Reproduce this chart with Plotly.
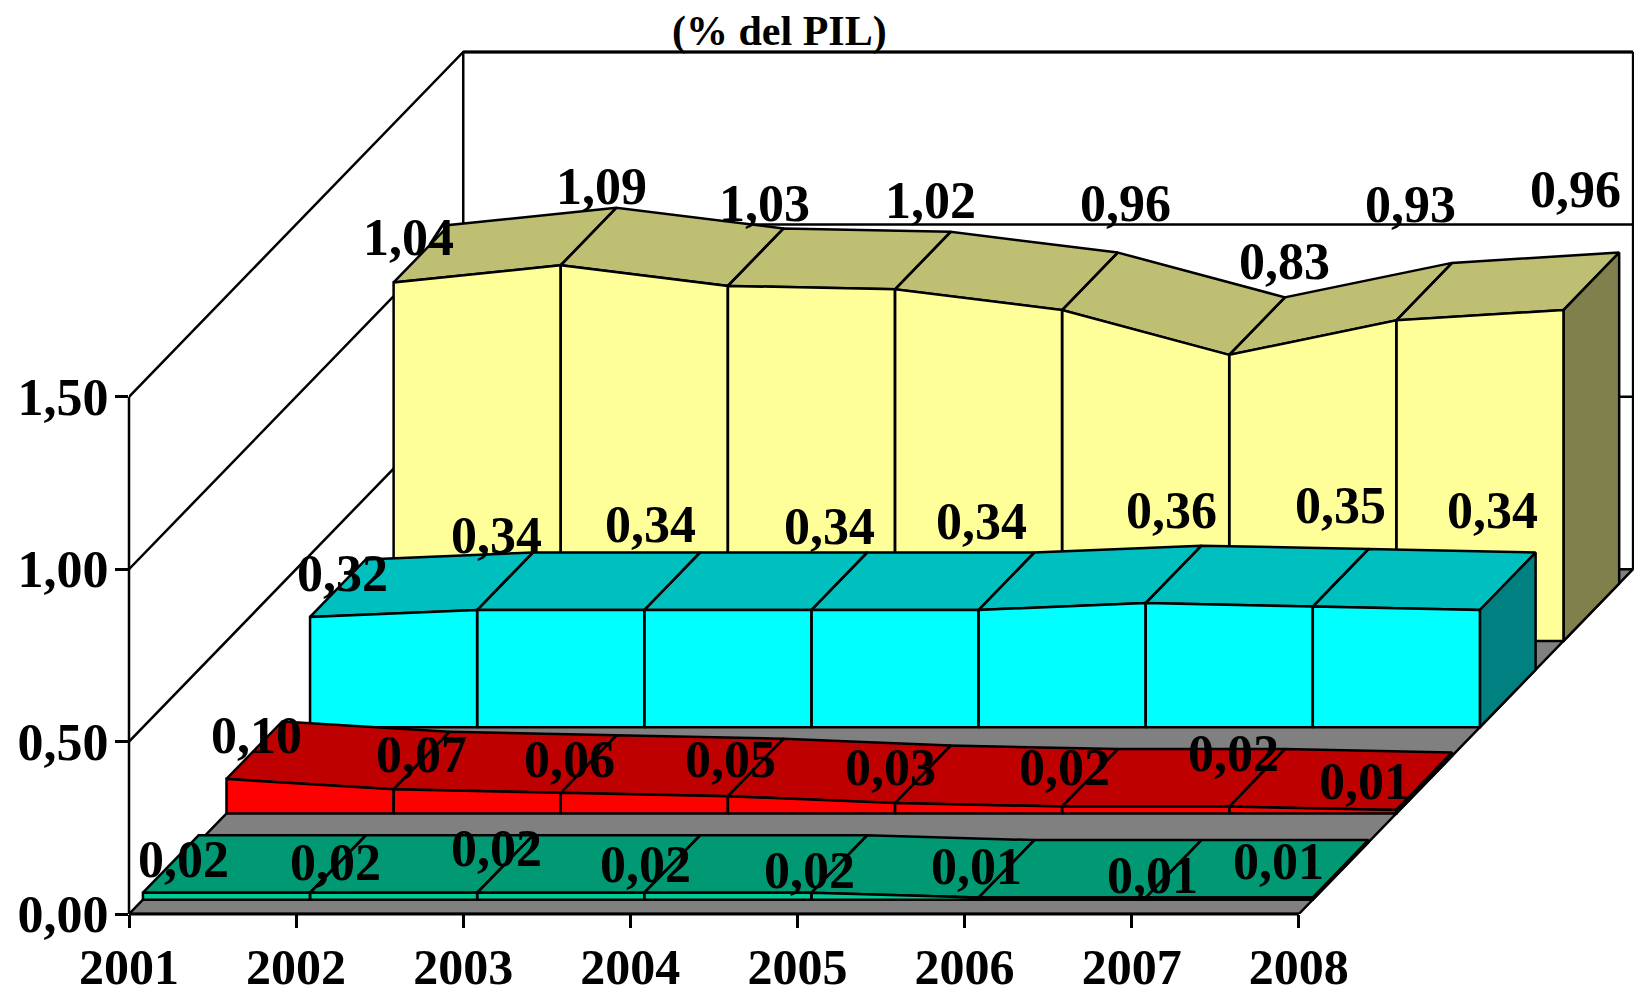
import plotly.graph_objects as go

years = ["2001", "2002", "2003", "2004", "2005", "2006", "2007", "2008"]
y_ticks = [0.0, 0.5, 1.0, 1.5]
y_tick_labels = ["0,00", "0,50", "1,00", "1,50"]

green = [0.02, 0.02, 0.02, 0.02, 0.02, 0.006, 0.006, 0.006]
red = [0.10, 0.07, 0.06, 0.05, 0.03, 0.02, 0.02, 0.01]
cyan = [0.32, 0.34, 0.34, 0.34, 0.34, 0.36, 0.35, 0.34]
yellow = [1.04, 1.09, 1.03, 1.02, 0.96, 0.83, 0.93, 0.96]

# label nudges in screen pixels, relative to the mid-depth top of each point
green_nudge = [(13, -5), (-2, -2), (-9, -16), (-27, 0), (-30, 6), (-30, -2), (-21, 7), (-62, -7)]
red_nudge = [(2, -15), (0, -6), (-19, -5), (-25, -8), (-32, -7), (-25, -10), (-24, -24), (-60, 0)]
cyan_nudge = [(5, -15), (-9, -46), (-22, -57), (-10, -55), (-25, -60), (-2, -64), (0, -72), (-15, -71)]
yellow_nudge = [(-13, -16), (13, -50), (9, -54), (8, -60), (36, -78), (27, -65), (-14, -87), (-16, -92)]

series = [
    (green, green_nudge, "#00CC99", "#009973", "#006650"),
    (red, red_nudge, "#FF0000", "#BF0000", "#800000"),
    (cyan, cyan_nudge, "#00FFFF", "#00BFBF", "#008080"),
    (yellow, yellow_nudge, "#FFFF99", "#BFBF73", "#80804D"),
]

PX_X, PX_Y = 167.1, 344.8          # screen pixels per year and per unit of value
LEFT, BASE = 129.2, 914.0          # screen position of the origin
DEPTH_X, DEPTH_Y = 2.0, 1.0        # oblique shift of the whole depth, in axis units
N = len(years)
S = len(series)
FONT = "Liberation Serif"
LW = 2.5


def proj(i, d, v):
    return i + d * DEPTH_X, v + d * DEPTH_Y


def poly(points):
    xs, ys = zip(*[proj(*p) for p in points + points[:1]])
    return list(xs), list(ys)


def shapes_trace(polys, fill, width=LW):
    xs, ys = [], []
    for p in polys:
        a, b = poly(p)
        xs += a + [None]
        ys += b + [None]
    return go.Scatter(x=xs, y=ys, mode="lines", fill="toself" if fill else None,
                      fillcolor=fill, line=dict(color="black", width=width),
                      hoverinfo="skip", showlegend=False, cliponaxis=False)


def line_trace(pts, width=LW):
    xs, ys = zip(*[proj(*p) for p in pts])
    return go.Scatter(x=list(xs), y=list(ys), mode="lines", line=dict(color="black", width=width),
                      hoverinfo="skip", showlegend=False, cliponaxis=False)


traces = []
last = N - 1
top = y_ticks[-1]

# walls: left-wall rules, back-wall rules, edges
for v in y_ticks[1:]:
    traces.append(line_trace([(0, 0, v), (0, 1, v), (last + 0, 1, v)]))
traces.append(line_trace([(0, 1, 0), (0, 1, top)]))
traces.append(line_trace([(last, 1, 0), (last, 1, top)]))
traces.append(line_trace([(0, 1, top), (last, 1, top)], width=3))

# floor
traces.append(shapes_trace([[(0, 0, 0), (last, 0, 0), (last, 1, 0), (0, 1, 0)]], "#808080"))

# series, back to front
for k in range(S - 1, -1, -1):
    values, _, front, upper, side = series[k]
    d0 = (k + 1 / 6) / S
    d1 = (k + 5 / 6) / S
    tops = []
    fronts = []
    for i in range(N - 1):
        a, b = values[i], values[i + 1]
        tops.append([(i, d0, a), (i + 1, d0, b), (i + 1, d1, b), (i, d1, a)])
        fronts.append([(i, d0, 0), (i + 1, d0, 0), (i + 1, d0, b), (i, d0, a)])
    traces.append(shapes_trace(tops, upper))
    traces.append(shapes_trace([[(last, d0, 0), (last, d1, 0), (last, d1, values[-1]), (last, d0, values[-1])]], side))
    traces.append(shapes_trace(fronts, front))

fig = go.Figure(traces)

annotations = []
for k, (values, nudge, *_rest) in enumerate(series):
    d = (k + 0.5) / S
    for i, v in enumerate(values):
        x, y = proj(i, d, v)
        annotations.append(dict(x=x, y=y, xshift=nudge[i][0], yshift=-nudge[i][1],
                                text=f"{v:.2f}".replace(".", ","), showarrow=False,
                                xanchor="center", yanchor="middle",
                                font=dict(family=FONT, size=52, color="black", weight="bold")))
annotations.append(dict(x=(780 - LEFT) / PX_X, y=(BASE - 31) / PX_Y, text="(% del PIL)", showarrow=False,
                        xanchor="center", yanchor="middle",
                        font=dict(family=FONT, size=42, color="black", weight="bold")))

# the two axis lines sit on the plot-area edge, so they are drawn as shapes that are not clipped there
axis_shapes = [
    dict(type="line", xref="paper", yref="y", x0=0, x1=0, y0=0, y1=top, line=dict(color="black", width=LW)),
    dict(type="line", xref="x", yref="paper", x0=0, x1=last, y0=0, y1=0, line=dict(color="black", width=3)),
]

y_font = dict(family=FONT, size=52, color="black", weight="bold")
x_font = dict(family=FONT, size=50, color="black", weight="bold")
fig.update_layout(
    width=1634, height=998, autosize=False,
    margin=dict(l=LEFT, r=0, t=0, b=998 - BASE, pad=0, autoexpand=False),
    paper_bgcolor="white", plot_bgcolor="white", showlegend=False,
    annotations=annotations, shapes=axis_shapes,
    xaxis=dict(range=[0, (1634 - LEFT) / PX_X], tickmode="array", tickvals=list(range(N)), ticktext=years,
               showgrid=False, zeroline=False, showline=False, ticks="outside", ticklen=13, tickwidth=2.5,
               tickcolor="black", tickfont=x_font, ticklabelstandoff=-4, automargin=False),
    yaxis=dict(range=[0, BASE / PX_Y], tickmode="array", tickvals=y_ticks, ticktext=y_tick_labels,
               showgrid=False, zeroline=False, showline=False, ticks="outside", ticklen=13, tickwidth=2.5,
               tickcolor="black", tickfont=y_font, ticklabelstandoff=-4, automargin=False),
)

fig.write_html("out.html", config={"displayModeBar": False},
               post_script="document.body.style.margin='0';document.documentElement.style.overflow='hidden';")
